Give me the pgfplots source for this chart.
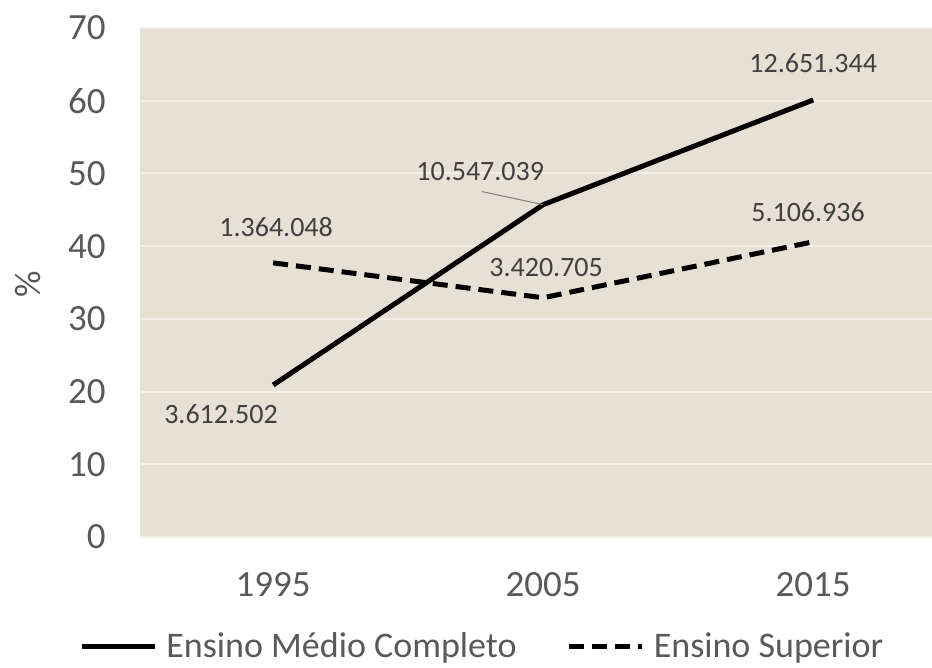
\documentclass[border=0pt]{standalone}
\usepackage{fontspec}
\setmainfont{Carlito}
\usepackage{pgfplots}
\pgfplotsset{compat=1.18}
\definecolor{bgc}{HTML}{E6E1D4}
\definecolor{gridc}{HTML}{F2EFE9}
\definecolor{txt}{HTML}{595959}
\definecolor{lbl}{HTML}{404040}
\begin{document}
\begin{tikzpicture}
\begin{axis}[
  name=ax,
  scale only axis,
  width=396pt, height=254.5pt,
  xmin=-0.493, xmax=2.44,
  ymin=0, ymax=70,
  ytick={0,10,...,70},
  xtick={0,1,2},
  xticklabels={1995,2005,2015},
  axis background/.style={fill=bgc},
  axis line style={draw=none},
  major tick length=0pt,
  ymajorgrids,
  grid style={draw=gridc, line width=1pt},
  /pgf/number format/assume math mode=true,
  tick label style={font=\fontsize{18.5}{21}\selectfont, text=txt, inner sep=0pt},
  yticklabel style={anchor=east, xshift=-17pt},
  xticklabel style={anchor=center, yshift=-23.75pt},
  every axis y label/.style={at={(rel axis cs:-0.142,0.497)}, rotate=90, anchor=center, font=\fontsize{18.5}{21}\selectfont, text=txt},
  ylabel={\%},
  clip=false,
  legend columns=2,
  legend style={at={(rel axis cs:0.431,-0.216)}, anchor=center, draw=none, fill=none,
    font=\fontsize{18}{21}\selectfont, text=txt, inner sep=0pt,
    nodes={inner xsep=0pt},
    /tikz/every odd column/.append style={column sep=4.5pt},
    /tikz/every even column/.append style={column sep=25pt}},
  legend image code/.code={\draw[#1] (0pt,0pt) -- (36.5pt,0pt);},
]
\addplot[black, line width=2.5pt] coordinates {(0,20.9) (1,45.7) (2,60.1)};
\addlegendentry{Ensino Médio Completo}
\addplot[black, line width=2.5pt, dash pattern=on 7.5pt off 4pt] coordinates {(0,37.7) (1,32.9) (2,40.6)};
\addlegendentry{Ensino Superior}
\draw[gray, line width=0.5pt] (axis cs:0.774,47.5) -- (axis cs:1.0,45.7);
\begin{scope}[every node/.style={font=\fontsize{14}{16}\selectfont, text=lbl}]
\node at (axis cs:2.0,65.2) {12.651.344};
\node at (axis cs:0.767,50.2) {10.547.039};
\node at (axis cs:0.011,42.6) {1.364.048};
\node at (axis cs:1.011,37.0) {3.420.705};
\node at (axis cs:1.981,44.7) {5.106.936};
\node at (axis cs:-0.193,16.9) {3.612.502};
\end{scope}
\end{axis}
\pgfresetboundingbox
\path (ax.south west) +(-70pt,-65.5pt) (ax.north east) +(0pt,14pt);
\end{tikzpicture}
\end{document}
